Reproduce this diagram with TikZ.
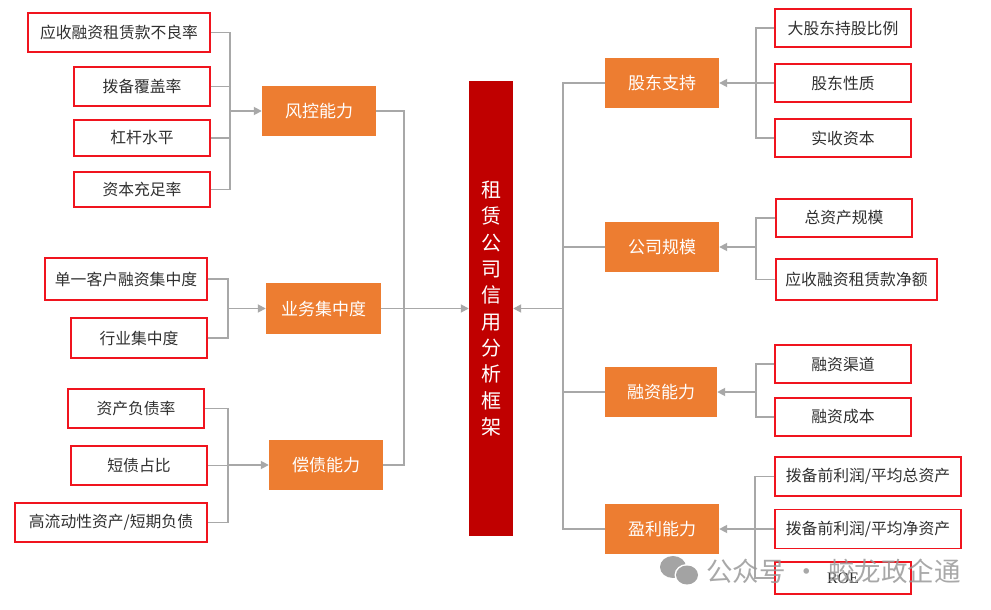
\documentclass[tikz,border=0pt]{standalone}
\usepackage{fontspec}
\setmainfont{Noto Sans CJK SC}
\newfontfamily\latinfont{Liberation Serif}
\usetikzlibrary{arrows.meta}
\definecolor{dimorange}{HTML}{ED7D31}
\definecolor{framered}{HTML}{C00000}
\definecolor{boxred}{HTML}{F0141E}
\definecolor{linegray}{HTML}{A8A8A8}
\definecolor{inkgray}{HTML}{303030}
\tikzset{
  kpi/.style={draw=boxred,line width=1.5pt,fill=white,text=inkgray,inner sep=0pt,
    minimum width=136,minimum height=39,font=\fontsize{15.8}{18}\selectfont},
  dim/.style={fill=dimorange,text=white,inner sep=0pt,minimum width=114,minimum height=50,
    font=\fontsize{17}{20}\selectfont},
  lnk/.style={linegray,line width=1.7pt},
  lnkarrow/.style={lnk,-{Triangle[length=8pt,width=8pt]}},
  mark text/.style={text=black!40,opacity=.85,font=\fontsize{26.5}{28}\selectfont}
}
\begin{document}
\begin{tikzpicture}[x=1pt,y=1pt]
\useasboundingbox (0,0) rectangle (991,-610);
% centre
\node (frame)[fill=framered,text=white,inner sep=0pt,minimum width=44,minimum height=455,align=center,
  font=\fontsize{20}{26.3}\selectfont] at (491,-308.5)
  {\raisebox{-2pt}{租}\\\raisebox{-2pt}{赁}\\\raisebox{-2pt}{公}\\\raisebox{-2pt}{司}\\\raisebox{-2pt}{信}\\\raisebox{-2pt}{用}\\\raisebox{-2pt}{分}\\\raisebox{-2pt}{析}\\\raisebox{-2pt}{框}\\\raisebox{-2pt}{架}};
% left side
\node (fk)[dim] at (319,-111) {风控能力};
\node (yw)[dim,minimum width=115,minimum height=51] at (323.5,-308.5) {业务集中度};
\node (ch)[dim] at (326,-465) {偿债能力};
\node (l1)[kpi,minimum width=182] at (119,-32.5) {应收融资租赁款不良率};
\node (l2)[kpi] at (142,-86.5) {拨备覆盖率};
\node (l3)[kpi,minimum height=36] at (142,-138) {杠杆水平};
\node (l4)[kpi,minimum height=35] at (142,-189.5) {资本充足率};
\node (l5)[kpi,minimum width=162,minimum height=42] at (126,-279) {单一客户融资集中度};
\node (l6)[kpi,minimum height=40] at (139,-338) {行业集中度};
\node (l7)[kpi] at (136,-408.5) {资产负债率};
\node (l8)[kpi] at (139,-465.5) {短债占比};
\node (l9)[kpi,minimum width=192] at (111,-522.5) {高流动性资产/短期负债};
% right side
\node (gd)[dim] at (662,-83) {股东支持};
\node (gm)[dim] at (662,-247) {公司规模};
\node (rz)[dim,minimum width=112] at (661,-392) {融资能力};
\node (yl)[dim] at (662,-529) {盈利能力};
\node (r1)[kpi,minimum height=38] at (843,-28) {大股东持股比例};
\node (r2)[kpi,minimum height=38] at (843,-83) {股东性质};
\node (r3)[kpi,minimum height=38] at (843,-138) {实收资本};
\node (r4)[kpi,minimum height=38] at (844,-218) {总资产规模};
\node (r5)[kpi,minimum width=161,minimum height=41] at (856.5,-279.5) {应收融资租赁款净额};
\node (r6)[kpi,minimum height=38] at (843,-364) {融资渠道};
\node (r7)[kpi,minimum height=38] at (843,-417) {融资成本};
\node (r8)[kpi,minimum width=186] at (868,-476.5) {拨备前利润/平均总资产};
\node (r9)[kpi,minimum width=186] at (868,-529) {拨备前利润/平均净资产};
\node (r10)[kpi,minimum height=32,font=\latinfont\fontsize{16}{18}\selectfont] at (843,-578) {ROE};
% junctions
\coordinate (jfk) at (230,-111);
\coordinate (jyw) at (228,-308.5);
\coordinate (jch) at (228,-465);
\coordinate (jgd) at (756,-83);
\coordinate (jgm) at (756,-247);
\coordinate (jrz) at (756,-392);
\coordinate (jyl) at (755,-529);
\coordinate (jleft) at (404,-308.5);
\coordinate (jright) at (563,-308.5);
% connectors
\foreach \from/\to in {l1/jfk,l2/jfk,l3/jfk,l4/jfk,l5/jyw,l6/jyw,l7/jch,l8/jch,l9/jch}
  \draw[lnk] (\from.east) -| (\to);
\foreach \from/\to in {r1/jgd,r2/jgd,r3/jgd,r4/jgm,r5/jgm,r6/jrz,r7/jrz,r8/jyl,r9/jyl,r10/jyl}
  \draw[lnk] (\from.west) -| (\to);
\foreach \from/\to in {jfk/fk,jyw/yw,jch/ch}
  \draw[lnkarrow] (\from) -- (\to.west);
\foreach \from/\to in {jgd/gd,jgm/gm,jrz/rz,jyl/yl}
  \draw[lnkarrow] (\from) -- (\to.east);
\foreach \from in {fk,ch}
  \draw[lnk] (\from.east) -| (jleft);
\draw[lnkarrow] (yw.east) -- (frame.west);
\foreach \from in {gd,gm,rz,yl}
  \draw[lnk] (\from.west) -| (jright);
\draw[lnkarrow] (jright) -- (frame.east);
% watermark
\fill[black!42,opacity=.85] (673,-567) ellipse (13 and 11);
\fill[white] (687,-575) ellipse (12.5 and 11);
\fill[black!42,opacity=.85] (687,-575) ellipse (11 and 9.5);
\node (mark)[mark text,anchor=west,inner sep=0pt] at (706,-571) {公众号\hspace{8pt}·\hspace{8pt}蛟龙政企通};
\end{tikzpicture}
\end{document}
